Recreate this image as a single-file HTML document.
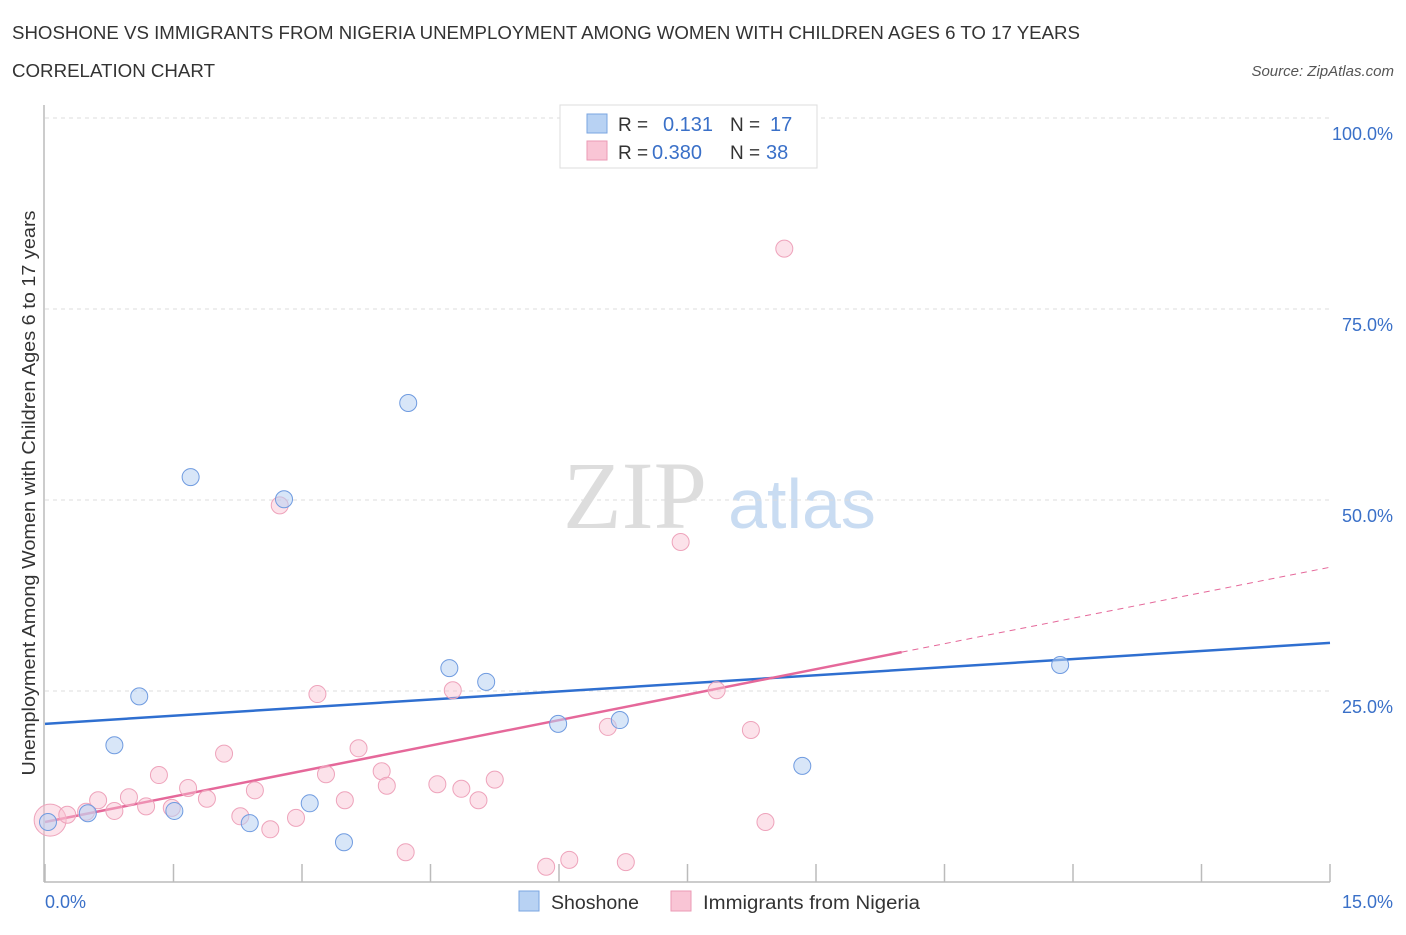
<!DOCTYPE html>
<html><head><meta charset="utf-8"><style>
body{margin:0;background:#fff;font-family:"Liberation Sans",sans-serif;}
svg text{font-family:"Liberation Sans",sans-serif;}
</style></head><body>
<svg width="1406" height="930" xmlns="http://www.w3.org/2000/svg">
<text x="12" y="39" font-size="18" fill="#333" textLength="1068" lengthAdjust="spacingAndGlyphs">SHOSHONE VS IMMIGRANTS FROM NIGERIA UNEMPLOYMENT AMONG WOMEN WITH CHILDREN AGES 6 TO 17 YEARS</text>
<text x="12" y="77" font-size="18" fill="#333" textLength="203" lengthAdjust="spacingAndGlyphs">CORRELATION CHART</text>
<text x="1394" y="76" font-size="15" fill="#555" text-anchor="end" font-style="italic">Source: ZipAtlas.com</text>
<g>
<text x="635" y="528" font-size="96" fill="#ddd" text-anchor="middle" font-family="Liberation Serif" style="font-family:'Liberation Serif',serif">ZIP</text>
<text x="802" y="528" font-size="70" fill="#c9dcf2" text-anchor="middle">atlas</text>
</g>
<g id="grid"></g>
<g id="axes"></g>
<g id="lines"></g>
<g id="points"></g>
<text x="35" y="493" font-size="18" fill="#333" text-anchor="middle" textLength="565" lengthAdjust="spacingAndGlyphs" transform="rotate(-90 35 493)">Unemployment Among Women with Children Ages 6 to 17 years</text>
<text x="45" y="908" font-size="18" fill="#3a70c8">0.0%</text>
<text x="1393" y="908" font-size="18" fill="#3a70c8" text-anchor="end">15.0%</text>
<g>
<rect x="560" y="105" width="257" height="63" fill="#fff" stroke="#ddd"/>
<rect x="587" y="114" width="20" height="19" fill="#b8d2f3" stroke="#7aa5e0"/>
<rect x="587" y="141" width="20" height="19" fill="#f9c5d5" stroke="#eb9ab5"/>
<text x="618" y="131" font-size="19" fill="#333">R =</text>
<text x="663" y="131" font-size="20" fill="#3a70c8">0.131</text>
<text x="730" y="131" font-size="19" fill="#333">N =</text>
<text x="770" y="131" font-size="20" fill="#3a70c8">17</text>
<text x="618" y="159" font-size="19" fill="#333">R =</text>
<text x="652" y="159" font-size="20" fill="#3a70c8">0.380</text>
<text x="730" y="159" font-size="19" fill="#333">N =</text>
<text x="766" y="159" font-size="20" fill="#3a70c8">38</text>
</g>
<g>
<rect x="519" y="891" width="20" height="20" fill="#b8d2f3" stroke="#7aa5e0"/>
<text x="551" y="909" font-size="19" fill="#333" textLength="88" lengthAdjust="spacingAndGlyphs">Shoshone</text>
<rect x="671" y="891" width="20" height="20" fill="#f9c5d5" stroke="#eb9ab5"/>
<text x="703" y="909" font-size="19" fill="#333" textLength="217" lengthAdjust="spacingAndGlyphs">Immigrants from Nigeria</text>
</g>
</svg>
<script>
const yTicks=[25,50,75,100];
const yTickLabels=["25.0%","50.0%","75.0%","100.0%"];
const xTicks=[0,1.5,3,4.5,6,7.5,9,10.5,12,13.5,15];
const shoX=[0.035,0.5,1.1,0.81,1.51,1.7,2.39,2.79,3.09,3.49,4.24,4.72,5.15,5.99,6.71,8.84,11.85];
const shoY=[7.85,9.0,24.3,17.9,9.3,53.0,7.7,50.1,10.3,5.2,62.7,28.0,26.2,20.7,21.2,15.2,28.4];
const nigX=[0.06,0.26,0.48,0.62,0.81,0.98,1.18,1.33,1.48,1.67,1.89,2.09,2.28,2.45,2.63,2.74,2.93,3.18,3.28,3.5,3.66,3.93,3.99,4.21,4.58,4.76,4.86,5.06,5.25,5.85,6.12,6.57,6.78,7.42,7.84,8.24,8.41,8.63];
const nigY=[8.1,8.8,9.2,10.7,9.3,11.1,9.9,14.0,9.7,12.3,10.9,16.8,8.6,12.0,6.9,49.3,8.4,24.6,14.1,10.7,17.5,14.5,12.6,3.9,12.8,25.1,12.2,10.7,13.4,2.0,2.9,20.3,2.6,44.5,25.1,19.9,7.85,82.9];
const shoTrend=[20.7,31.3];
const nigTrend=[7.85,41.2];
const nigSolidEnd=10.0;
const NS="http://www.w3.org/2000/svg";
const sx=v=>45+v/15*1285;
const sy=v=>882-v/100*764;
function mk(tag,attrs,parent){const e=document.createElementNS(NS,tag);for(const k in attrs)e.setAttribute(k,attrs[k]);document.getElementById(parent).appendChild(e);return e;}
yTicks.forEach((t,i)=>{
 const l=mk('line',{x1:45,x2:1330,y1:sy(t),y2:sy(t),stroke:'#ddd','stroke-dasharray':'4,4'},'grid');
 
 
 const tx=mk('text',{x:1393,y:sy(t)+22,'font-size':18,fill:'#3a70c8','text-anchor':'end'},'grid');
 tx.textContent=yTickLabels[i];
 
 
});
const ax=mk('line',{x1:44,x2:1330,y1:882,y2:882,stroke:'#bbb','stroke-width':1.5},'axes');


const ay=mk('line',{x1:44,x2:44,y1:105,y2:882,stroke:'#bbb','stroke-width':1.5},'axes');


xTicks.forEach(t=>{
 const l=mk('line',{x1:sx(t),x2:sx(t),y1:864,y2:882,stroke:'#bbb','stroke-width':1.5},'axes');
 
 
});
nigX.forEach((x,i)=>{
 const c=mk('circle',{cx:sx(x),cy:sy(nigY[i]),r:i==0?16:8.5,fill:'rgba(249,190,208,0.45)',stroke:'#eea3bb','stroke-width':1},'points');
 
 
});
shoX.forEach((x,i)=>{
 const c=mk('circle',{cx:sx(x),cy:sy(shoY[i]),r:8.5,fill:'rgba(184,210,243,0.55)',stroke:'#6f9be0','stroke-width':1},'points');
 
 
});
const nt=x=>nigTrend[0]+(nigTrend[1]-nigTrend[0])*x/15;
const l1=mk('line',{x1:sx(0),y1:sy(shoTrend[0]),x2:sx(15),y2:sy(shoTrend[1]),stroke:'#2f6fd0','stroke-width':2.5},'lines');


const l2=mk('line',{x1:sx(0),y1:sy(nt(0)),x2:sx(nigSolidEnd),y2:sy(nt(nigSolidEnd)),stroke:'#e5689a','stroke-width':2.5},'lines');


const l3=mk('line',{x1:sx(nigSolidEnd),y1:sy(nt(nigSolidEnd)),x2:sx(15),y2:sy(nt(15)),stroke:'#e5689a','stroke-width':1,'stroke-dasharray':'6,5'},'lines');


</script>
</body></html>
